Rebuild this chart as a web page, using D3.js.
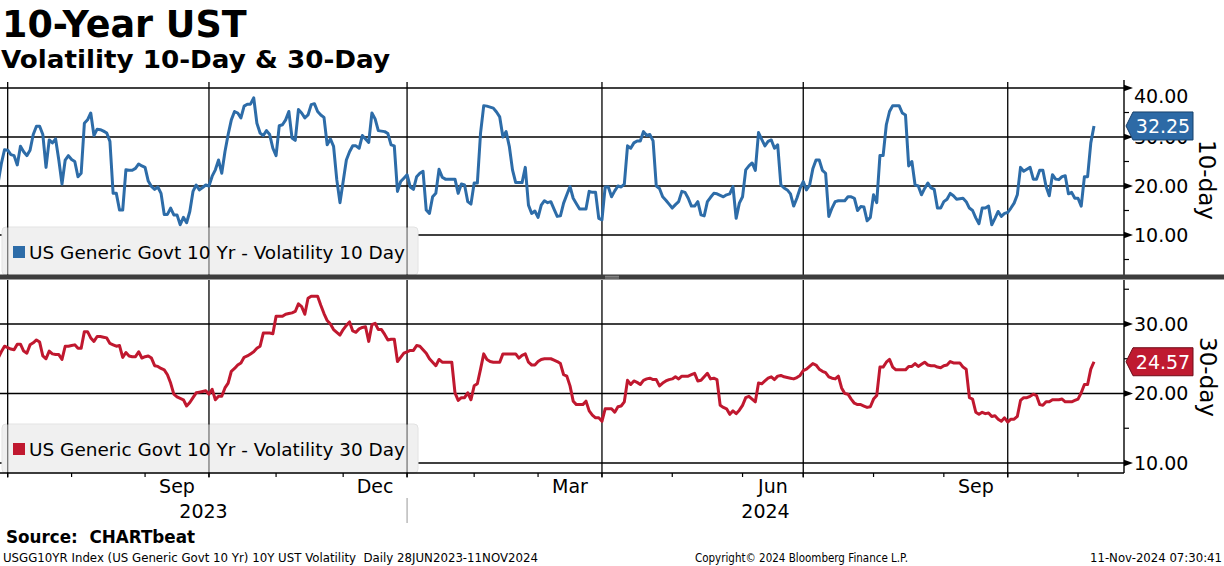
<!DOCTYPE html>
<html><head><meta charset="utf-8">
<script src="https://cdn.jsdelivr.net/npm/d3@7"></script>
<style>
body{margin:0;background:#fff;}
svg{display:block;font-family:"DejaVu Sans",sans-serif;}
text{white-space:pre;}
</style></head><body>
<svg id="c" width="1224" height="566"></svg>
<script>
// ---------------- data ----------------
const startDate = "2023-06-28";
const holidays = ["2023-07-04","2023-09-04","2023-10-09","2023-11-23","2023-12-25",
  "2024-01-01","2024-01-15","2024-02-19","2024-03-29","2024-05-27","2024-06-19",
  "2024-07-04","2024-09-02","2024-10-14","2024-11-11"];

const vol10 = [
20.6,24.5,27.4,27.3,26.4,26.2,24.3,28.1,27.0,26.2,
27.3,30.5,32.2,32.2,30.5,23.8,29.4,28.8,29.6,25.3,
20.4,25.3,26.2,25.4,25.0,21.9,22.6,32.8,33.5,34.9,
30.3,31.6,31.5,31.2,30.8,29.1,18.5,18.5,15.1,15.1,
23.3,23.2,23.2,23.6,24.5,24.1,23.8,21.0,19.9,19.3,
19.8,18.5,14.2,14.2,15.5,14.1,14.1,12.1,13.6,12.5,
14.8,18.9,20.2,19.2,19.7,20.2,20.0,22.0,23.3,25.3,
22.6,27.0,30.5,33.5,35.2,34.9,33.9,36.3,36.7,36.7,
38.0,32.8,30.8,30.3,31.3,30.5,27.7,26.2,32.3,32.5,
33.5,35.2,29.8,29.3,35.6,34.9,33.9,34.5,36.6,36.8,
35.2,34.5,34.0,28.4,29.6,28.1,21.3,16.6,20.9,25.3,
27.0,28.2,28.2,27.7,30.3,29.6,28.9,34.9,33.7,31.3,
31.2,31.1,30.7,28.4,28.2,18.9,20.9,21.6,22.3,19.8,
19.3,21.9,22.6,23.0,15.1,14.4,17.8,18.5,23.4,21.8,
21.4,21.4,21.4,21.4,18.5,20.4,20.2,16.8,16.3,20.6,
20.6,30.8,36.4,36.3,36.1,35.9,35.1,34.1,30.0,31.1,
28.1,23.3,20.7,20.7,20.7,23.8,16.1,14.4,14.9,13.6,
16.1,17.0,16.6,16.8,15.3,13.8,13.9,16.5,18.2,19.9,
17.5,16.4,15.3,15.3,15.3,18.9,18.7,18.7,13.4,13.1,
19.8,19.8,17.8,19.0,20.0,19.8,20.4,28.2,27.7,28.8,
29.2,29.2,31.1,30.3,30.5,29.2,20.0,19.5,17.8,17.1,
16.3,15.5,16.2,16.8,18.9,18.7,17.5,15.9,15.9,16.8,
14.1,13.9,16.8,17.7,18.5,18.4,18.1,17.8,18.2,18.4,
19.9,13.4,16.5,17.8,23.3,24.1,24.7,23.2,30.9,29.5,
28.2,29.1,29.4,27.7,28.4,20.2,19.6,19.2,18.4,15.9,
17.5,19.5,20.9,19.2,20.2,23.5,25.3,25.3,23.2,22.6,
13.8,15.5,16.8,17.0,17.0,17.0,17.8,17.8,17.5,15.0,
15.8,15.7,12.9,13.6,18.2,16.6,26.2,26.2,32.5,35.2,
36.4,36.4,36.4,34.9,34.5,24.1,25.0,20.2,20.0,18.2,
19.5,20.6,19.6,19.3,15.5,15.5,16.8,17.3,18.5,18.0,
17.3,17.4,17.5,16.8,15.5,15.0,13.5,12.3,15.5,15.5,
15.9,12.1,13.4,14.8,13.8,14.4,14.6,15.5,16.5,18.2,
23.8,23.0,23.4,23.8,21.4,21.4,23.2,23.2,19.9,18.0,
22.3,21.4,21.3,21.9,22.1,18.4,18.7,17.5,17.5,15.9,
21.9,21.9,28.8,32.25];

const vol30 = [
25.1,26.0,26.8,26.6,26.4,26.3,27.1,27.1,26.1,25.8,
27.0,27.3,27.7,27.4,25.4,25.0,26.1,25.7,25.6,25.6,
24.9,26.8,26.8,26.9,27.0,26.5,26.5,28.9,28.9,28.0,
27.5,28.2,28.2,28.1,28.0,27.2,27.0,26.8,26.9,25.2,
25.9,25.4,25.3,25.3,26.0,25.1,25.3,25.4,25.1,24.0,
23.9,23.6,23.4,22.7,21.5,19.9,19.5,19.3,19.1,18.2,
18.7,19.4,20.1,20.2,20.3,20.4,19.9,20.6,19.1,19.6,
19.6,20.8,21.5,23.2,23.6,24.1,24.4,25.2,25.4,25.7,
26.0,26.5,26.8,28.7,28.7,28.7,28.6,31.1,31.1,31.1,
31.4,31.5,31.6,31.8,32.9,32.5,31.4,33.7,34.0,34.0,
34.0,32.7,31.5,30.5,30.0,29.2,28.8,28.4,29.2,29.8,
30.3,29.0,28.8,29.3,29.5,29.6,27.5,29.9,30.1,29.2,
29.2,28.5,27.7,27.8,27.8,24.6,25.2,25.8,26.0,26.2,
26.2,26.9,26.8,26.3,25.8,25.0,24.5,24.0,24.9,24.5,
24.5,24.5,24.5,20.1,19.0,19.4,19.4,20.1,19.1,21.1,
21.4,23.5,25.7,24.9,24.6,24.5,24.5,24.5,25.7,25.7,
25.7,25.7,25.7,25.1,25.5,25.7,24.5,24.1,24.1,24.6,
24.9,25.0,25.0,25.0,24.8,24.6,24.3,22.7,22.5,21.1,
18.9,18.4,18.4,18.4,18.9,17.5,16.9,16.5,16.5,16.0,
17.8,17.8,17.8,17.3,18.1,18.2,18.8,21.9,21.3,21.8,
21.6,21.3,21.9,22.1,22.2,22.0,22.0,21.1,21.5,21.8,
22.0,22.1,22.4,22.1,22.5,22.5,22.5,22.7,22.9,21.8,
21.9,22.4,22.9,22.1,22.2,22.0,18.3,18.0,17.8,17.0,
17.5,17.1,17.6,18.3,19.4,19.6,19.2,18.8,21.5,21.4,
21.8,22.2,22.4,22.0,22.5,22.6,22.4,22.3,22.2,22.1,
22.3,22.6,23.3,23.5,23.9,24.3,24.1,23.5,23.2,23.0,
22.4,22.2,22.1,22.5,20.8,20.0,19.9,19.2,18.6,18.4,
18.4,18.2,18.0,18.1,19.2,19.7,23.8,23.8,24.5,24.9,
23.8,23.4,23.4,23.4,23.4,23.9,23.9,24.3,23.9,24.2,
24.5,24.1,24.0,24.0,23.8,23.7,24.0,24.1,24.6,24.4,
24.4,24.4,23.8,23.5,19.4,19.2,17.3,17.0,17.3,17.1,
17.2,16.7,16.8,16.3,16.0,16.5,15.9,16.3,16.3,16.7,
19.0,19.4,19.4,19.6,19.9,19.7,18.4,18.3,18.8,18.8,
19.1,19.1,19.1,19.2,18.8,18.8,18.8,19.0,19.2,20.1,
21.3,21.3,23.5,24.57];

const topTicks = [10, 20, 30, 40];
const topMinorTicks = [5, 15, 25, 35];
const botTicks = [10, 20, 30];
const botMinorTicks = [15, 25, 35];
const titleText = "10-Year UST";
const subtitleText = "Volatility 10-Day & 30-Day";
const legend10 = "US Generic Govt 10 Yr - Volatility 10 Day";
const legend30 = "US Generic Govt 10 Yr - Volatility 30 Day";
const axisTitle10 = "10-day";
const axisTitle30 = "30-day";
const sourceText = "Source:  CHARTbeat";
const footLeft = "USGG10YR Index (US Generic Govt 10 Yr) 10Y UST Volatility  Daily 28JUN2023-11NOV2024";
const footMid = "Copyright\u00A9 2024 Bloomberg Finance L.P.";
const footRight = "11-Nov-2024 07:30:41";

const blue = "#2d6ca8", red = "#c0182f";

// ---------------- calendar ----------------
function tradingDays(start, n, hol) {
  const set = new Set(hol);
  const out = [];
  const d = new Date(start + "T00:00:00Z");
  while (out.length < n) {
    const dow = d.getUTCDay();
    const s = d.toISOString().slice(0, 10);
    if (dow !== 0 && dow !== 6 && !set.has(s)) out.push(new Date(d.getTime()));
    d.setUTCDate(d.getUTCDate() + 1);
  }
  return out;
}
const dates = tradingDays(startDate, vol10.length, holidays);

// ---------------- layout ----------------
const plotR = 1124;
const panelT = {y0: 80, y1: 275};
const panelB = {y0: 280, y1: 473};
const x = d3.scaleLinear().domain([0, dates.length - 1]).range([-1.9, 1094]);
const yT = d3.scaleLinear().domain([10, 40]).range([235, 88]);
const yB = d3.scaleLinear().domain([10, 30]).range([463, 324]);

const svg = d3.select("#c");
svg.append("rect").attr("width", 1224).attr("height", 566).attr("fill", "#fff");

const defs = svg.append("defs");
defs.append("clipPath").attr("id", "clipT").append("rect")
  .attr("x", 0).attr("y", panelT.y0).attr("width", plotR).attr("height", panelT.y1 - panelT.y0);
defs.append("clipPath").attr("id", "clipB").append("rect")
  .attr("x", 0).attr("y", panelB.y0).attr("width", plotR).attr("height", panelB.y1 - panelB.y0);

// month starts
const monthStarts = [];
for (let i = 1; i < dates.length; i++) {
  if (dates[i].getUTCMonth() !== dates[i - 1].getUTCMonth()) monthStarts.push(i);
}
const quarterStarts = monthStarts.filter(i => dates[i].getUTCMonth() % 3 === 0);
const yearStart = monthStarts.find(i => dates[i].getUTCMonth() === 0);

// horizontal gridlines
svg.append("g").selectAll("line").data(topTicks).join("line")
  .attr("x1", 0).attr("x2", plotR).attr("y1", d => yT(d)).attr("y2", d => yT(d))
  .attr("stroke", "#000").attr("stroke-width", 1.4);
svg.append("g").selectAll("line").data(botTicks).join("line")
  .attr("x1", 0).attr("x2", plotR).attr("y1", d => yB(d)).attr("y2", d => yB(d))
  .attr("stroke", "#000").attr("stroke-width", 1.4);

// legends (opaque, cover horizontal grid)
const legends = [
  {y: 227, h: 48, col: blue, text: legend10, base: 259},
  {y: 424, h: 49, col: red, text: legend30, base: 456}
];
svg.append("g").selectAll("rect").data(legends).join("rect")
  .attr("x", 2).attr("y", d => d.y).attr("width", 416).attr("height", d => d.h)
  .attr("rx", 4).attr("fill", "#f0f0f0").attr("stroke", "#e2e2e2");

// vertical gridlines
svg.append("g").selectAll("line").data(quarterStarts).join("line")
  .attr("x1", d => x(d)).attr("x2", d => x(d)).attr("y1", 82).attr("y2", panelT.y1)
  .attr("stroke", "#000").attr("stroke-width", 1.3);
svg.append("g").selectAll("line").data(quarterStarts).join("line")
  .attr("x1", d => x(d)).attr("x2", d => x(d)).attr("y1", panelB.y0).attr("y2", panelB.y1 + 4.5)
  .attr("stroke", "#000").attr("stroke-width", 1.3);

// legend overlay (greys the vertical lines under it)
svg.append("g").selectAll("rect").data(legends).join("rect")
  .attr("x", 2.5).attr("y", d => d.y + 0.5).attr("width", 415).attr("height", d => d.h - 1)
  .attr("rx", 4).attr("fill", "#f0f0f0").attr("fill-opacity", 0.5);
svg.append("g").selectAll("rect").data(legends).join("rect")
  .attr("x", 13).attr("y", d => d.base - 13).attr("width", 12).attr("height", 12)
  .attr("fill", d => d.col);
svg.append("g").selectAll("text").data(legends).join("text")
  .attr("x", 29).attr("y", d => d.base).attr("font-size", 18.4)
  .attr("textLength", 376).attr("lengthAdjust", "spacingAndGlyphs")
  .attr("fill", "#000").text(d => d.text);

// lines
const lineT = d3.line().x((d, i) => x(i)).y(d => yT(d));
const lineB = d3.line().x((d, i) => x(i)).y(d => yB(d));
svg.append("path").attr("clip-path", "url(#clipT)").attr("d", lineT(vol10))
  .attr("fill", "none").attr("stroke", blue).attr("stroke-width", 3)
  .attr("stroke-linejoin", "round");
svg.append("path").attr("clip-path", "url(#clipB)").attr("d", lineB(vol30))
  .attr("fill", "none").attr("stroke", red).attr("stroke-width", 3)
  .attr("stroke-linejoin", "round");

// right axes
function rightAxis(scale, panel, ticks, minor, minLabelY) {
  const ax = svg.append("g");
  ax.append("line").attr("x1", plotR).attr("x2", plotR).attr("y1", panel.y0).attr("y2", panel.y1)
    .attr("stroke", "#000").attr("stroke-width", 1.4);
  ax.append("g").selectAll("path").data(ticks).join("path")
    .attr("d", d => `M${plotR},${scale(d) - 3.2}L${plotR + 9},${scale(d)}L${plotR},${scale(d) + 3.2}Z`)
    .attr("fill", "#000");
  ax.append("g").selectAll("line").data(minor.filter(v => scale(v) > panel.y0 && scale(v) < panel.y1)).join("line")
    .attr("x1", plotR).attr("x2", plotR + 5).attr("y1", d => scale(d)).attr("y2", d => scale(d))
    .attr("stroke", "#000").attr("stroke-width", 1.2);
  ax.append("g").selectAll("text").data(ticks).join("text")
    .attr("x", 1134).attr("y", d => Math.max(scale(d), minLabelY)).attr("dy", "0.36em")
    .attr("font-size", 19).attr("fill", "#000").text(d => d3.format(".2f")(d));
}
rightAxis(yT, panelT, topTicks, topMinorTicks, 96);
rightAxis(yB, panelB, botTicks, botMinorTicks, 0);

// axis titles
svg.append("text").attr("transform", "translate(1207,180) rotate(90)")
  .attr("text-anchor", "middle").attr("dy", "0.35em").attr("font-size", 23).text(axisTitle10);
svg.append("text").attr("transform", "translate(1208,377) rotate(90)")
  .attr("text-anchor", "middle").attr("dy", "0.35em").attr("font-size", 23).text(axisTitle30);

// last value labels
function valueLabel(val, scale, fill, stroke) {
  const cy = scale(val);
  svg.append("path")
    .attr("d", `M${plotR + 2},${cy}L${plotR + 9},${cy - 14}L${plotR + 69},${cy - 14}L${plotR + 69},${cy + 14}L${plotR + 9},${cy + 14}Z`)
    .attr("fill", fill).attr("stroke", stroke).attr("stroke-width", 1);
  svg.append("text").attr("x", plotR + 39).attr("y", cy).attr("dy", "0.36em")
    .attr("text-anchor", "middle").attr("font-size", 19).attr("fill", "#fff")
    .text(d3.format(".2f")(val));
}
valueLabel(vol10[vol10.length - 1], yT, "#2d6aa6", "#17406b");
valueLabel(vol30[vol30.length - 1], yB, "#bf1a30", "#6e0c18");

// separator between panels
svg.append("rect").attr("x", 0).attr("y", 274.5).attr("width", 1224).attr("height", 5).attr("fill", "#3d3d3d");
svg.append("line").attr("x1", 605).attr("x2", 619).attr("y1", 276.3).attr("y2", 276.3).attr("stroke", "#aaa").attr("stroke-width", 0.8);
svg.append("line").attr("x1", 605).attr("x2", 619).attr("y1", 278).attr("y2", 278).attr("stroke", "#aaa").attr("stroke-width", 0.8);

// x axis
svg.append("line").attr("x1", 0).attr("x2", plotR).attr("y1", panelB.y1).attr("y2", panelB.y1)
  .attr("stroke", "#000").attr("stroke-width", 1.4);
svg.append("g").selectAll("line").data(monthStarts).join("line")
  .attr("x1", d => x(d)).attr("x2", d => x(d)).attr("y1", panelB.y1).attr("y2", panelB.y1 + 4)
  .attr("stroke", "#000").attr("stroke-width", 1.2);
const monthLabelData = [];
for (let k = 0; k < monthStarts.length - 1; k++) {
  const a = monthStarts[k], b = monthStarts[k + 1];
  if (dates[a].getUTCMonth() % 3 === 2) monthLabelData.push({x: (x(a) + x(b)) / 2, t: d3.utcFormat("%b")(dates[a])});
}
svg.append("g").selectAll("text").data(monthLabelData).join("text")
  .attr("x", d => d.x).attr("y", 493).attr("text-anchor", "middle").attr("font-size", 19).text(d => d.t);
const xb = x(yearStart);
const yearData = [
  {x: (0 + xb) / 2, t: d3.utcFormat("%Y")(dates[0])},
  {x: (xb + plotR) / 2, t: d3.utcFormat("%Y")(dates[yearStart])}
];
svg.append("g").selectAll("text").data(yearData).join("text")
  .attr("x", d => d.x).attr("y", 518).attr("text-anchor", "middle").attr("font-size", 19).text(d => d.t);
svg.append("line").attr("x1", xb).attr("x2", xb).attr("y1", 498).attr("y2", 523)
  .attr("stroke", "#999").attr("stroke-width", 1);

// titles
svg.append("text").attr("x", 2).attr("y", 37).attr("font-size", 36.5).attr("font-weight", "bold").text(titleText);
svg.append("text").attr("x", 1).attr("y", 68).attr("font-size", 24).attr("font-weight", "bold")
  .attr("textLength", 389).attr("lengthAdjust", "spacingAndGlyphs").text(subtitleText);

// footer
svg.append("text").attr("x", 6).attr("y", 543).attr("font-size", 17.5).attr("font-weight", "bold")
  .attr("textLength", 189).attr("lengthAdjust", "spacingAndGlyphs").text(sourceText);
svg.append("text").attr("x", 3).attr("y", 562).attr("font-size", 12)
  .attr("textLength", 535).attr("lengthAdjust", "spacingAndGlyphs").text(footLeft);
svg.append("text").attr("x", 695).attr("y", 562).attr("font-size", 12)
  .attr("textLength", 213).attr("lengthAdjust", "spacingAndGlyphs").text(footMid);
svg.append("text").attr("x", 1090).attr("y", 562).attr("font-size", 12)
  .attr("textLength", 132).attr("lengthAdjust", "spacingAndGlyphs").text(footRight);
</script>
</body></html>
